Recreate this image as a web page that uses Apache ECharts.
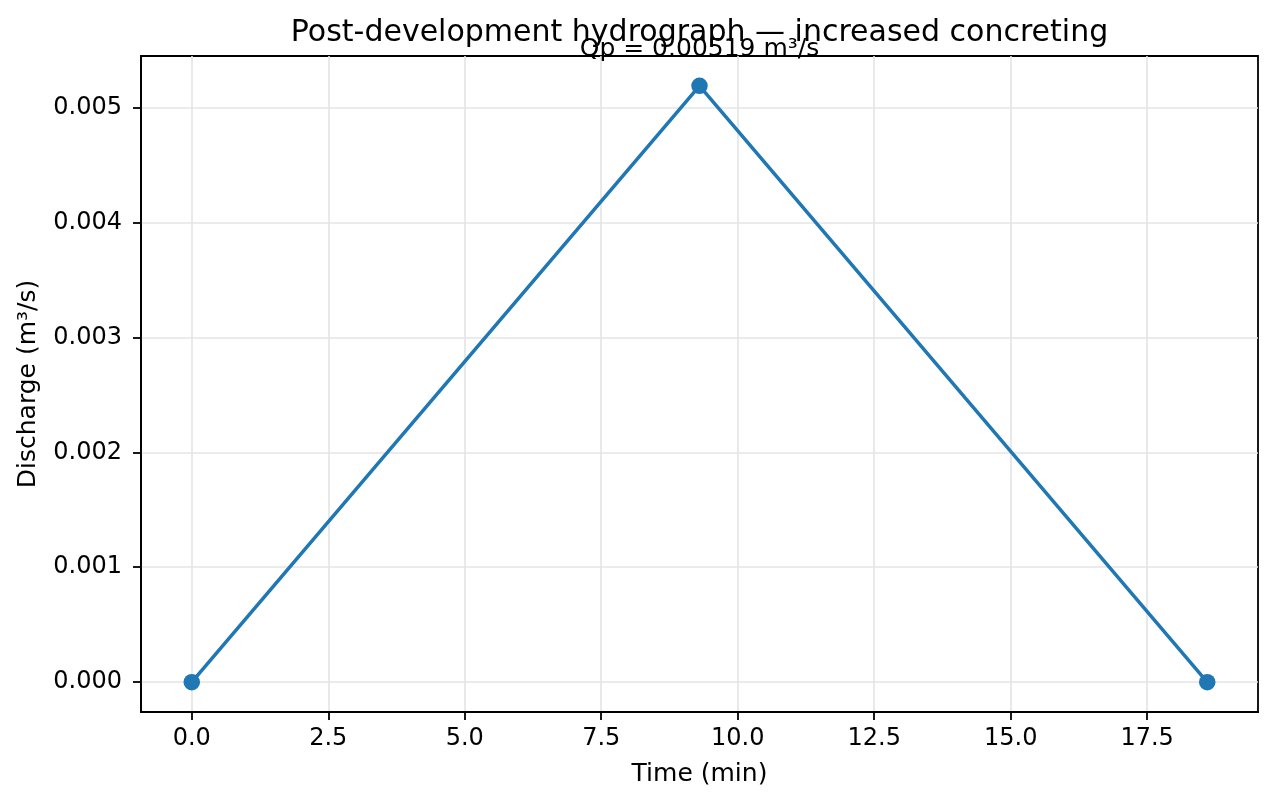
<!DOCTYPE html>
<html>
<head>
<meta charset="utf-8">
<script src="https://cdn.jsdelivr.net/npm/echarts@6/dist/echarts.min.js"></script>
<style>
  html, body { margin: 0; padding: 0; background: #fff; }
  #chart { width: 1277px; height: 805px; }
</style>
</head>
<body>
<div id="chart"></div>
<script>
// hydrograph data
var timeMin = [0, 9.3, 18.6]
var discharge = [0, 0.00519, 0]
var peakLabel = 'Qp = 0.00519 m³/s'
var xTicks = [0, 2.5, 5, 7.5, 10, 12.5, 15, 17.5]
var yTicks = [0, 0.001, 0.002, 0.003, 0.004, 0.005]

var font = 'DejaVu Sans'
var chart = echarts.init(document.getElementById('chart'))

var points = timeMin.map(function (t, i) {
    var item = { value: [t, discharge[i]] }
    if (i === 1) {
        item.label = {
            show: true,
            position: 'top',
            distance: 16,
            formatter: peakLabel,
            fontFamily: font,
            fontSize: 25,
            color: '#000'
        }
    }
    return item
})

chart.setOption({
    animation: false,
    backgroundColor: '#fff',
    title: {
        text: 'Post-development hydrograph — increased concreting',
        left: 694.5,
        textAlign: 'center',
        top: 13,
        textStyle: { fontFamily: font, fontSize: 30, fontWeight: 'normal', color: '#000' }
    },
    grid: {
        left: 141, right: 19, top: 56, bottom: 93,
        show: true, borderColor: '#000', borderWidth: 1.8, backgroundColor: 'transparent'
    },
    xAxis: {
        type: 'value',
        min: -0.93,
        max: 19.53,
        name: 'Time (min)',
        nameLocation: 'middle',
        nameGap: 50,
        nameTextStyle: { fontFamily: font, fontSize: 25, color: '#000' },
        axisLine: { show: true, onZero: false, lineStyle: { color: '#000', width: 1.8 } },
        axisTick: { show: true, inside: false, length: 8, lineStyle: { color: '#000', width: 1.8 }, customValues: xTicks },
        axisLabel: {
            customValues: xTicks, margin: 15, fontFamily: font, fontSize: 24, color: '#000',
            formatter: function (v) { return v.toFixed(1) }
        },
        splitLine: { show: true, lineStyle: { color: '#e4e4e4', width: 1.6 } }
    },
    yAxis: {
        type: 'value',
        min: -0.00026,
        max: 0.00545,
        name: 'Discharge (m³/s)',
        nameLocation: 'middle',
        nameGap: 100,
        nameTextStyle: { fontFamily: font, fontSize: 25, color: '#000' },
        axisLine: { show: true, onZero: false, lineStyle: { color: '#000', width: 1.8 } },
        axisTick: { show: true, inside: false, length: 8, lineStyle: { color: '#000', width: 1.8 }, customValues: yTicks },
        axisLabel: {
            customValues: yTicks, margin: 19, fontFamily: font, fontSize: 24, color: '#000',
            formatter: function (v) { return v.toFixed(3) }
        },
        splitLine: { show: true, lineStyle: { color: '#e4e4e4', width: 1.6 } }
    },
    series: [{
        type: 'line',
        data: points,
        symbol: 'circle',
        symbolSize: 16.5,
        showAllSymbol: true,
        lineStyle: { color: '#1f77b4', width: 3.5 },
        itemStyle: { color: '#1f77b4' },
        z: 3
    }]
})
</script>
</body>
</html>
